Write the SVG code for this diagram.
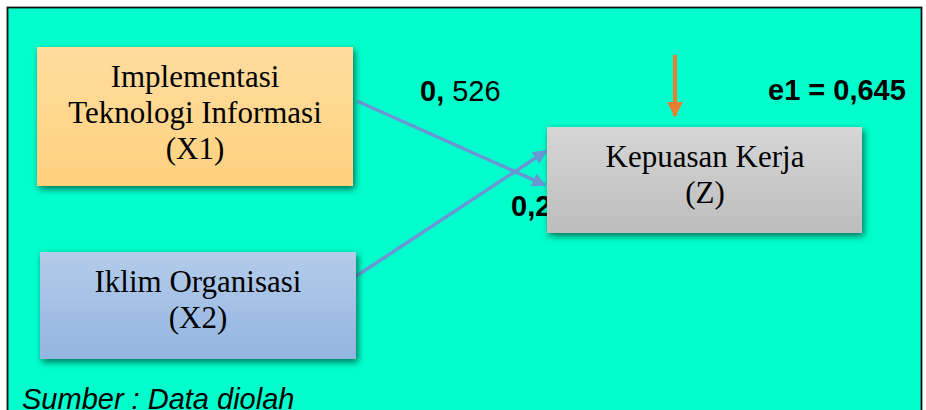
<svg xmlns="http://www.w3.org/2000/svg" width="926" height="410" viewBox="0 0 926 410">
  <defs>
    <linearGradient id="gX1" x1="0" y1="0" x2="0" y2="1">
      <stop offset="0" stop-color="#FFDD9F"/>
      <stop offset="1" stop-color="#FFD17D"/>
    </linearGradient>
    <linearGradient id="gX2" x1="0" y1="0" x2="0" y2="1">
      <stop offset="0" stop-color="#B5CCEA"/>
      <stop offset="1" stop-color="#92B5E1"/>
    </linearGradient>
    <linearGradient id="gZ" x1="0" y1="0" x2="0" y2="1">
      <stop offset="0" stop-color="#D6D6D6"/>
      <stop offset="1" stop-color="#BDBDBD"/>
    </linearGradient>
    <filter id="shadow" x="-10%" y="-20%" width="125%" height="150%">
      <feDropShadow dx="2" dy="3" stdDeviation="3.5" flood-color="#005F4C" flood-opacity="0.9"/>
    </filter>
    <marker id="arrBlue" viewBox="0 0 10 10" refX="9" refY="5" markerWidth="4" markerHeight="4" orient="auto" markerUnits="strokeWidth">
      <path d="M0,0 L10,5 L0,10 Z" fill="#6A96D4"/>
    </marker>
    <marker id="arrOrange" viewBox="0 0 10 10" refX="9" refY="5" markerWidth="4" markerHeight="4" orient="auto" markerUnits="strokeWidth">
      <path d="M0,0 L10,5 L0,10 Z" fill="#ED7D31"/>
    </marker>
  </defs>
  <style>
    .box { font-family: "Liberation Serif", "Times New Roman", serif; font-size: 31px; fill: #000; text-anchor: middle; }
    .lbl { font-family: "Liberation Sans", Arial, sans-serif; font-size: 29px; fill: #000; }
    .b { font-weight: bold; }
    .conn { stroke: #6A96D4; stroke-width: 3.5; fill: none; marker-end: url(#arrBlue); }
  </style>

  <rect x="0" y="0" width="926" height="410" fill="#FFFFFF"/>
  <rect x="7.5" y="7.5" width="914" height="420" fill="#00FFCC" stroke="#111111" stroke-width="1.8"/>

  <g id="labels">
    <text class="lbl" x="420" y="101"><tspan class="b">0,</tspan> 526</text>
    <text class="lbl b" x="768" y="100">e1 = 0,645</text>
    <text class="lbl b" x="511" y="216">0,2</text>
    <text class="lbl" x="22" y="409" font-style="italic">Sumber : Data diolah</text>
  </g>

  <g id="connectors">
    <line class="conn" x1="357" y1="101" x2="545" y2="185"/>
    <line class="conn" x1="355" y1="277" x2="546" y2="151"/>
    <line x1="675" y1="55" x2="675" y2="116" stroke="#ED7D31" stroke-width="4" marker-end="url(#arrOrange)"/>
  </g>

  <g id="node-x1">
    <rect x="37" y="47" width="316" height="139" fill="url(#gX1)" filter="url(#shadow)"/>
    <text class="box" x="195" y="87">Implementasi</text>
    <text class="box" x="195" y="123">Teknologi Informasi</text>
    <text class="box" x="195" y="159">(X1)</text>
  </g>

  <g id="node-x2">
    <rect x="40" y="252" width="316" height="107" fill="url(#gX2)" filter="url(#shadow)"/>
    <text class="box" x="198" y="292">Iklim Organisasi</text>
    <text class="box" x="198" y="328">(X2)</text>
  </g>

  <g id="node-z">
    <rect x="547" y="127" width="315" height="106" fill="url(#gZ)" filter="url(#shadow)"/>
    <text class="box" x="705" y="167">Kepuasan Kerja</text>
    <text class="box" x="705" y="203">(Z)</text>
  </g>
</svg>
